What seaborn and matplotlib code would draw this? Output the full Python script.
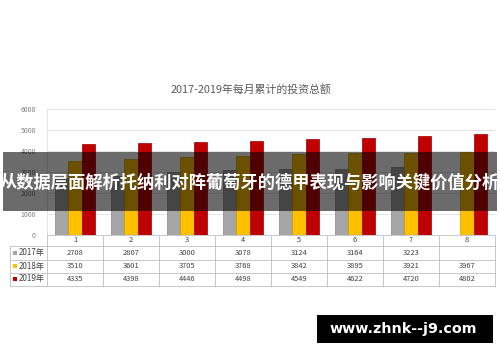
import matplotlib
matplotlib.use("Agg")
import matplotlib.pyplot as plt
from matplotlib.patches import Rectangle
import numpy as np
import pandas as pd
import seaborn as sns

months = ["1", "2", "3", "4", "5", "6", "7", "8"]
series_names = ["2017年", "2018年", "2019年"]
v2017 = [2708, 2807, 3000, 3078, 3124, 3164, 3223, np.nan]
v2018 = [3510, 3601, 3705, 3768, 3842, 3895, 3921, 3967]
v2019 = [4335, 4398, 4446, 4498, 4549, 4622, 4720, 4802]
colors = ["#A5A5A5", "#FFC000", "#C00000"]
title = "2017-2019年每月累计的投资总额"
overlay_text = "从数据层面解析托纳利对阵葡萄牙的德甲表现与影响关键价值分析"
watermark = "www.zhnk--j9.com"

sns.set_style("white")
plt.rcParams["font.family"] = ["Noto Sans CJK SC", "DejaVu Sans"]

W, H = 500, 362
fig = plt.figure(figsize=(W / 100, H / 100), dpi=100)
fig.patch.set_facecolor("white")


def fx(x):
    return x / W


def fy(y):
    return 1 - y / H


# plot area in pixel coordinates
x0, x1 = 47, 495
y_top, y_zero = 109, 235
ax = fig.add_axes([fx(x0), fy(y_zero), (x1 - x0) / W, (y_zero - y_top) / H])

values = [v2017, v2018, v2019]
rows = []
for name, vals in zip(series_names, values):
    for m, v in zip(months, vals):
        rows.append({"month": m, "series": name, "value": v})
df = pd.DataFrame(rows)

sns.barplot(data=df, x="month", y="value", hue="series", order=months,
            hue_order=series_names, palette=dict(zip(series_names, colors)),
            width=0.7, gap=0, ax=ax, legend=False, zorder=3, saturation=1)
for p in ax.patches:
    fc = p.get_facecolor()
    p.set_edgecolor((fc[0] * 0.8, fc[1] * 0.8, fc[2] * 0.8, 1))
    p.set_linewidth(0.5)

ax.set_ylim(0, 6000)
ax.set_xlim(-0.5, len(months) - 0.5)
ax.set_yticks(range(0, 6001, 1000))
ax.set_yticklabels([str(t) for t in range(0, 6001, 1000)], fontsize=5, color="#808080")
ax.tick_params(axis="y", length=0, pad=8)
ax.set_xticks([])
ax.set_xlabel("")
ax.set_ylabel("")
ax.grid(axis="y", color="#E3E3E3", linewidth=0.7, zorder=0)
for s in ["top", "right", "bottom"]:
    ax.spines[s].set_visible(False)
ax.spines["left"].set_color("#E3E3E3")
ax.spines["left"].set_linewidth(0.7)

# title
fig.text(fx(251), fy(90), title, ha="center", va="center", fontsize=7.8, color="#595959")

# data table
col_w = (x1 - x0) / len(months)
row_lines = [235, 246, 259.5, 272.5, 285.5]
line_c = "#BFBFBF"
lw = 0.6
fig.add_artist(plt.Line2D([fx(x0), fx(x1)], [fy(row_lines[0])] * 2, color=line_c, lw=lw))
for yy in row_lines[1:]:
    fig.add_artist(plt.Line2D([fx(10), fx(x1)], [fy(yy)] * 2, color=line_c, lw=lw))
for i in range(len(months) + 1):
    xx = x0 + i * col_w
    fig.add_artist(plt.Line2D([fx(xx)] * 2, [fy(row_lines[0]), fy(row_lines[-1])], color=line_c, lw=lw))
fig.add_artist(plt.Line2D([fx(10)] * 2, [fy(row_lines[1]), fy(row_lines[-1])], color=line_c, lw=lw))

for i, m in enumerate(months):
    fig.text(fx(x0 + (i + 0.5) * col_w), fy((row_lines[0] + row_lines[1]) / 2), m,
             ha="center", va="center", fontsize=5.4, color="#404040")
for r, (name, vals, c) in enumerate(zip(series_names, values, colors)):
    yc = (row_lines[r + 1] + row_lines[r + 2]) / 2
    fig.add_artist(Rectangle((fx(13), fy(yc + 2)), 4 / W, 4 / H, transform=fig.transFigure,
                             facecolor=c, edgecolor="none"))
    fig.text(fx(18.5), fy(yc), name, ha="left", va="center", fontsize=5.8, color="#404040")
    for i, v in enumerate(vals):
        if not np.isnan(v):
            fig.text(fx(x0 + (i + 0.5) * col_w), fy(yc), str(int(v)),
                     ha="center", va="center", fontsize=5.4, color="#404040")

# overlay banner
fig.add_artist(Rectangle((fx(3), fy(211)), 494 / W, 59 / H, transform=fig.transFigure,
                         facecolor="black", alpha=0.58, edgecolor="none", zorder=10))
fig.text(fx(250), fy(183), overlay_text, ha="center", va="center", fontsize=12.4,
         fontweight="bold", color="white", zorder=11)

# watermark box
fig.add_artist(Rectangle((fx(317), fy(343)), 176 / W, 28 / H, transform=fig.transFigure,
                         facecolor="black", edgecolor="none", zorder=10))
fig.text(fx(403), fy(329.5), watermark, ha="center", va="center", fontsize=10.3,
         fontweight="bold", color="white", family=["DejaVu Sans"], zorder=11)

fig.savefig("out.png", dpi=100)
